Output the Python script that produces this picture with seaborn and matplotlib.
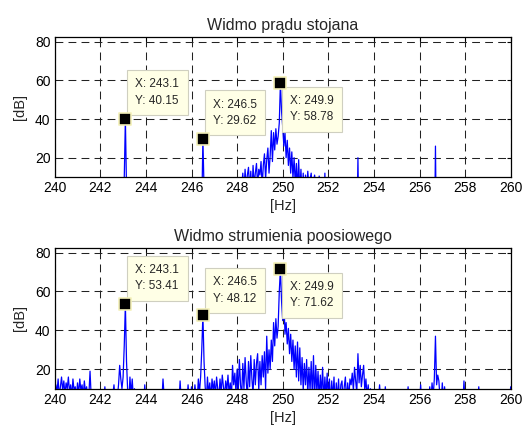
import numpy as np
import pandas as pd
import seaborn as sns
import matplotlib
matplotlib.use("Agg")
import matplotlib.pyplot as plt

# ---------------- data ----------------
freq_start = 240.0
freq_step = 0.05          # Hz between spectral lines

# Stator current spectrum [dB], rows = 1 Hz (20 lines each), values < 10 are below the axis
current_db = [
    -20, -25, -18, -22, -30, -19, -24, -21, -28, -17, -23, -26, -20, -29, -18, -22, -25, -19, -27, -21,   # 240
    -24, -18, -26, -22, -20, -29, -17, -23, -25, -19, -28, -21, -24, -18, -26, -22, -20, -27, -19, -23,   # 241
    -22, -26, -19, -24, -28, -18, -23, -21, -27, -20, -25, -19, -22, -29, -18, -24, -21, -26, -20, -5,    # 242
    -5, 9, 40.15, 4, -18, -25, -20, -27, -19, -23, -26, -21, -28, -18, -24, -22, -20, -27, -19, -25,      # 243
    -21, -26, -19, -24, -28, -18, -23, -21, -27, -20, -25, -19, -22, -29, -18, -24, -21, -26, -20, -23,   # 244
    -25, -19, -22, -27, -20, -24, -18, -26, -21, -23, -28, -19, -22, -25, -20, -27, -18, -24, -21, -26,   # 245
    -22, -27, -19, -24, -20, -26, -18, -23, -21, -6, 29.62, 3, -22, -26, -19, -24, -20, -27, -18, -23,    # 246
    -25, -20, -23, -27, -19, -24, -21, -26, -18, -22, -25, -20, -28, -19, -16, -12, -8, -10, -4, -6,      # 247
    -10, 0, -5, 3, 5, 12, 2, 14, 4, 11, 15, 3, 13, 1, 16, 6, 12, 17, 5, 14,                               # 248
    11, 18, 5, 16, 22, 9, 19, 25, 12, 21, 34, 18, 33, 24, 35, 27, 31, 38, 58.78, 44,                      # 249
    36, 26, 33, 20, 29, 16, 25, 12, 23, 9, 20, 6, 17, 3, 19, 2, 14, 0, 12, -3,                            # 250
    11, 3, 13, 5, 9, 12, 2, 8, 11, 4, 7, 2, 10.5, 3, -5, 2, -8, 12, -10, -15,                             # 251
    -20, -24, -18, -26, -22, -19, -27, -21, -25, -18, -23, -28, -20, -24, -19, -26, -22, -27, -18, -23,   # 252
    -25, -20, -26, -22, -28, -19, 20, -24, -21, -27, -18, -23, -25, -20, -26, -22, -19, -28, -21, -24,   # 253
    -19, -26, -22, -27, -20, -24, -18, -25, -21, -28, -19, -23, -26, -20, -24, -18, -27, -22, -25, -19,   # 254
    -23, -27, -20, -25, -18, -26, -22, -24, -19, -28, -21, -25, -20, -23, -27, -19, -24, -22, -26, -18,   # 255
    -24, -20, -26, -22, -27, -19, -25, -21, -23, -28, -20, -24, -26, -30, 26, -30, -22, -27, -19, -24,   # 256
    -21, -25, -19, -27, -23, -20, -26, -22, -28, -18, -24, -21, -25, -19, -27, -23, -20, -26, -22, -24,   # 257
    -26, -20, -24, -19, -27, -22, -25, -18, -23, -28, -21, -24, -20, -26, -19, -25, -22, -27, -18, -23,   # 258
    -22, -27, -19, -24, -20, -26, -18, -25, -21, -23, -28, -20, -24, -19, -26, -22, -27, -18, -25, -21,   # 259
    -24,                                                                                                   # 260
]

# Axial flux spectrum [dB]
flux_db = [
    5, 12, 8, 15, 6, 11, 16, 9, 14, 7, 13, 10, 16, 8, 12, 6, 15, 9, 11, 5,                 # 240
    13, 7, 15, 9, 12, 6, 14, 8, 11, 4, 7, 19, 6, 3, 9, 2, 5, 1, 4, 2,                       # 241
    3, 6, 2, 5, 11, 4, 2, 8, 3, 5, 2, 7, 12, 4, 3, 6, 12, 22, 15, 10,                       # 242
    16, 32, 53.41, 24, 9, 3, 16, 7, 15, 5, 10, 4, 2, 6, 3, 1, 4, 8, 2, 12,                  # 243
    3, 2, 5, 3, 1, 4, 2, 4, 3, 6, 2, 5, 3, 1, 4, 15, 6, 3, 4, 2,                            # 244
    3, 5, 2, 4, 1, 3, 6, 2, 5, 3, 14, 4, 2, 5, 3, 1, 4, 12, 3, 2,                           # 245
    11, 3, 5, 12, 6, 4, 15, 8, 16, 30, 48.12, 24, 11, 4, 16, 7, 13, 5, 15, 9,               # 246
    14, 6, 16, 10, 5, 15, 8, 17, 11, 6, 14, 9, 17, 7, 13, 5, 22, 12, 18, 8,                 # 247
    20, 8, 25, 12, 6, 23, 10, 26, 14, 5, 24, 11, 27, 15, 7, 25, 12, 23, 28, 9,              # 248
    24, 12, 27, 16, 29, 10, 37, 18, 30, 20, 35, 24, 44, 32, 46, 36, 42, 60, 71.62, 55,      # 249
    45, 58, 38, 44, 33, 41, 28, 38, 24, 35, 20, 32, 16, 34, 14, 31, 12, 26, 9, 23,          # 250
    12, 25, 7, 21, 9, 24, 6, 27, 5, 22, 8, 19, 4, 17, 7, 21, 3, 16, 6, 18,                  # 251
    4, 15, 2, 14, 5, 16, 1, 13, 4, 15, 2, 12, 14, 3, 11, 16, 2, 13, 5, 15,                  # 252
    12, 18, 9, 21, 14, 8, 28, 13, 22, 11, 17, 22, 9, 15, 6, 12, 4, 10, 3, 5,                # 253
    2, 6, 3, 1, 5, 12, 3, 2, 4, 1, 11, 3, 2, 5, 1, 3, 2, 4, 1, 3,                           # 254
    2, 4, 1, 3, 2, 5, 1, 3, 2, 4, 11, 2, 3, 1, 4, 2, 3, 1, 5, 2,                            # 255
    3, 12, 2, 4, 1, 3, 5, 2, 4, 11, 3, 13, 6, 15, 37, 12, 17, 14, 5, 3,                     # 256
    13, 4, 11, 2, 3, 1, 4, 2, 3, 1, 2, 4, 1, 3, 2, 4, 1, 3, 2, 14,                          # 257
    3, 1, 4, 2, 3, 1, 2, 4, 1, 3, 2, 4, 11, 2, 1, 3, 2, 4, 1, 3,                            # 258
    2, 4, 1, 3, 2, 1, 4, 2, 3, 1, 2, 4, 1, 3, 2, 4, 1, 3, 2, 4,                             # 259
    11,                                                                                      # 260
]

# Data tips
tip_freq = [243.1, 246.5, 249.9]
current_tip_db = [40.15, 29.62, 58.78]
flux_tip_db = [53.41, 48.12, 71.62]

titles = ["Widmo prądu stojana", "Widmo strumienia poosiowego"]
x_ticks = [240, 242, 244, 246, 248, 250, 252, 254, 256, 258, 260]
y_ticks = [20, 40, 60, 80]

# ---------------- style ----------------
sns.set_style("white")
plt.rcParams.update({
    "font.family": ["Liberation Sans", "DejaVu Sans"],
    "font.size": 9,
    "axes.edgecolor": "black",
    "axes.linewidth": 0.9,
    "xtick.direction": "in",
    "ytick.direction": "in",
    "xtick.major.size": 3,
    "ytick.major.size": 3,
    "xtick.color": "black",
    "ytick.color": "black",
})

freqs = np.round(freq_start + freq_step * np.arange(len(flux_db)), 3)
df = pd.DataFrame({"f": freqs, "current": current_db, "flux": flux_db})
tips = pd.DataFrame({"f": tip_freq, "current": current_tip_db, "flux": flux_tip_db})

W, H = 529, 429
fig = plt.figure(figsize=(W / 100, H / 100), dpi=100)
ax1 = fig.add_axes([54.7 / W, 1 - 177 / H, 456 / W, 140 / H])
ax2 = fig.add_axes([54.7 / W, 1 - 388.7 / H, 456 / W, 141 / H])

# box offsets in pixels (dx, dy, va) -- text anchor, box padding is added around it
offsets = [
    [(10, 12, "bottom"), (10, 12, "bottom"), (10, -12, "top")],
    [(10, 12, "bottom"), (10, 10, "bottom"), (10, -12, "top")],
]

for k, (ax, col, title) in enumerate(zip([ax1, ax2], ["current", "flux"], titles)):
    sns.lineplot(data=df, x="f", y=col, ax=ax, color="#0000ff", linewidth=0.9)
    ax.set_xlim(240, 260)
    ax.set_ylim(10, 82.5)
    ax.set_xticks(x_ticks)
    ax.set_yticks(y_ticks)
    ax.tick_params(labelsize=10, pad=3, top=True, right=True)
    ax.grid(True, color="#222222", linestyle=(0, (7.5, 5)), linewidth=0.75)
    ax.set_axisbelow(True)
    ax.set_title(title, fontsize=11.5, pad=5)
    for s in ax.spines.values():
        s.set_visible(True)
        s.set_color("black")
    sns.scatterplot(data=tips, x="f", y=col, ax=ax, marker="s", s=75,
                    color="black", edgecolor="#f3f0b8", linewidth=1.2, zorder=5)
    for j in range(len(tips)):
        dx, dy, va = offsets[k][j]
        ax.annotate(f"X: {tips['f'][j]:.1f}\nY: {tips[col][j]:.2f}",
                    xy=(tips["f"][j], tips[col][j]), xytext=(dx, dy),
                    textcoords="offset pixels", ha="left", va=va, fontsize=8.5,
                    linespacing=1.5, zorder=4,
                    bbox=dict(boxstyle="square,pad=0.7", fc="#ffffe6",
                              ec="#cfcfc0", lw=0.8))
    ax.set_xlabel("[Hz]", fontsize=10.5, labelpad=3)
    ax.set_ylabel("[dB]", fontsize=10.5, labelpad=6)

fig.savefig("out.png", dpi=100)
